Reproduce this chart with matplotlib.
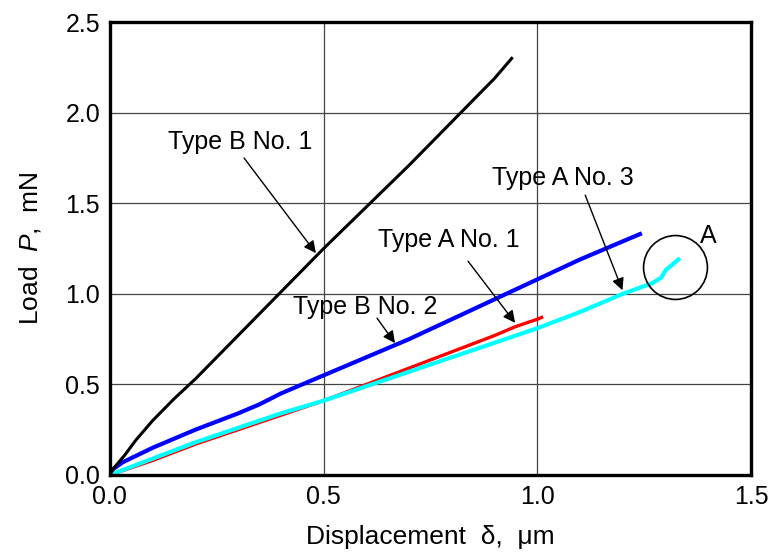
import matplotlib
matplotlib.use("Agg")
import matplotlib.pyplot as plt

plt.rcParams['font.family'] = ['Liberation Sans', 'DejaVu Sans']
plt.rcParams['mathtext.fontset'] = 'custom'
plt.rcParams['mathtext.it'] = 'Liberation Sans:italic'
plt.rcParams['mathtext.rm'] = 'Liberation Sans'

# Type B No. 1 (black)
xb1 = [0, 0.01, 0.035, 0.06, 0.1, 0.15, 0.2, 0.3, 0.4, 0.5, 0.6, 0.7, 0.8, 0.9, 0.94]
yb1 = [0, 0.04, 0.11, 0.19, 0.30, 0.42, 0.53, 0.77, 1.01, 1.25, 1.48, 1.71, 1.95, 2.19, 2.30]
# Type B No. 2 (blue)
xb2 = [0, 0.03, 0.1, 0.2, 0.3, 0.35, 0.4, 0.5, 0.6, 0.7, 0.8, 0.9, 1.0, 1.1, 1.2, 1.24]
yb2 = [0.02, 0.07, 0.15, 0.25, 0.34, 0.39, 0.45, 0.55, 0.65, 0.75, 0.86, 0.97, 1.08, 1.19, 1.29, 1.33]
# Type A No. 1 (red)
xa1 = [0, 0.1, 0.2, 0.3, 0.4, 0.5, 0.6, 0.7, 0.8, 0.9, 0.95, 1.0, 1.01]
ya1 = [0, 0.08, 0.17, 0.25, 0.33, 0.41, 0.50, 0.59, 0.68, 0.77, 0.82, 0.86, 0.87]
# Type A No. 3 (cyan)
xa3 = [0, 0.1, 0.2, 0.3, 0.4, 0.5, 0.6, 0.7, 0.8, 0.9, 1.0, 1.1, 1.2, 1.27, 1.29, 1.30, 1.33]
ya3 = [0, 0.09, 0.18, 0.26, 0.34, 0.41, 0.49, 0.57, 0.65, 0.73, 0.81, 0.90, 1.00, 1.06, 1.09, 1.13, 1.19]

xticks = [0.0, 0.5, 1.0, 1.5]
yticks = [0.0, 0.5, 1.0, 1.5, 2.0, 2.5]

fig = plt.figure(figsize=(7.68, 5.54), dpi=100)
ax = fig.add_axes([0.143, 0.1426, 0.835, 0.8174])

ax.plot(xa1, ya1, color='red', lw=2.4)
ax.plot(xa3, ya3, color='cyan', lw=3.0)
ax.plot(xb2, yb2, color='blue', lw=3.0)
ax.plot(xb1, yb1, color='black', lw=2.2)

ax.set_xlim(0, 1.5)
ax.set_ylim(0, 2.5)
ax.set_xticks(xticks)
ax.set_yticks(yticks)
ax.set_xticklabels(['%.1f' % v for v in xticks])
ax.set_yticklabels(['%.1f' % v for v in yticks])
ax.grid(True, color='#444444', lw=0.9)
ax.tick_params(direction='in', length=0, labelsize=18, pad=7)
for s in ax.spines.values():
    s.set_linewidth(2.4)

ax.set_xlabel('Displacement  δ,  μm', fontsize=19, labelpad=12)
ax.set_ylabel(r'Load  $P$,  mN', fontsize=19, labelpad=16)

arr = dict(arrowstyle='-|>', color='black', lw=1.0, mutation_scale=18, shrinkA=0, shrinkB=0)
ax.annotate('', xy=(0.482, 1.225), xytext=(0.314, 1.75), arrowprops=arr)
ax.text(0.304, 1.84, 'Type B No. 1', fontsize=18, ha='center', va='center')
ax.annotate('', xy=(0.948, 0.84), xytext=(0.838, 1.18), arrowprops=arr)
ax.text(0.794, 1.30, 'Type A No. 1', fontsize=18, ha='center', va='center')
ax.annotate('', xy=(0.667, 0.728), xytext=(0.625, 0.866), arrowprops=arr)
ax.text(0.597, 0.93, 'Type B No. 2', fontsize=18, ha='center', va='center')
ax.annotate('', xy=(1.199, 1.02), xytext=(1.112, 1.545), arrowprops=arr)
ax.text(1.059, 1.64, 'Type A No. 3', fontsize=18, ha='center', va='center')

# circled region A
ax.plot([1.323], [1.148], marker='o', markersize=46, markerfacecolor='none',
        markeredgecolor='black', markeredgewidth=1.2)
ax.text(1.40, 1.32, 'A', fontsize=18, ha='center', va='center')

fig.savefig('out.png', dpi=100)
